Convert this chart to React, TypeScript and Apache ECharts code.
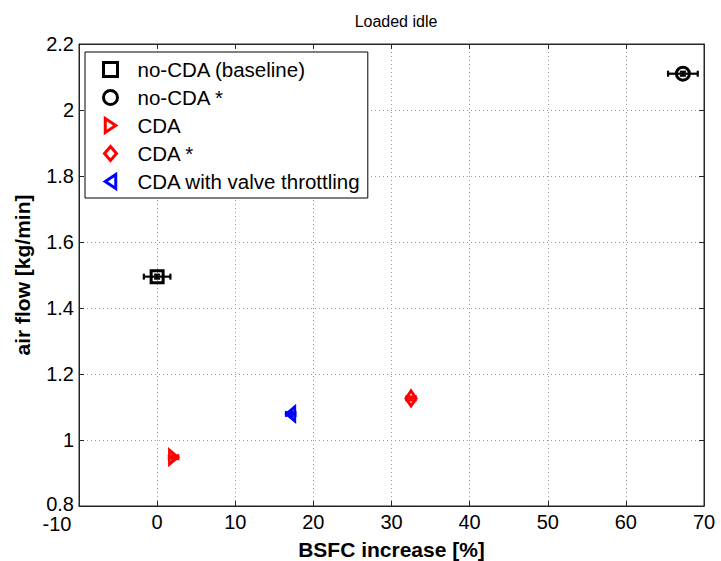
import React, { useEffect, useRef } from "react";
import * as echarts from "echarts";

const seriesNames = ["no-CDA (baseline)", "no-CDA *", "CDA", "CDA *", "CDA with valve throttling"];
const bsfcIncrease = [0, 67.3, 2.1, 32.5, 17.1];
const airFlow = [1.495, 2.11, 0.948, 1.126, 1.079];
const bsfcErr = [1.7, 1.9, 0.6, 0.6, 0.6];
const airFlowErr = [0.006, 0.006, 0.006, 0.006, 0.006];
const seriesColors = ["#000000", "#000000", "#ff0000", "#ff0000", "#0000ff"];
const seriesSymbols = [
  "path://M0,0H10V10H0Z",
  "path://M5,0A5,5 0 1,1 5,10A5,5 0 1,1 5,0Z",
  "path://M0,0L9,6L0,12Z",
  "path://M6,0L12,7L6,14L0,7Z",
  "path://M9,0L0,6L9,12Z",
];
const seriesSizes: number[][] = [[12, 12], [13, 13], [11, 14], [12, 15], [11, 14]];

const FONT = "'Liberation Sans', Arial, sans-serif";

export default function App() {
  const ref = useRef<HTMLDivElement>(null);
  useEffect(() => {
    if (!ref.current) return;
    const chart = echarts.init(ref.current, null, { renderer: "svg" });
    const scatterSeries = seriesNames.map((name, i) => ({
      type: "scatter",
      name,
      xAxisIndex: 0,
      yAxisIndex: 0,
      symbol: seriesSymbols[i],
      symbolSize: seriesSizes[i],
      symbolKeepAspect: true,
      itemStyle: { color: "transparent", borderColor: seriesColors[i], borderWidth: 3, opacity: 1 },
      data: [[bsfcIncrease[i], airFlow[i]]],
      z: 3,
    }));
    const errData = bsfcIncrease.map((x, i) => [x, airFlow[i], bsfcErr[i], airFlowErr[i]]);
    const axisLineStyle = { color: "#262626", width: 1 };
    chart.setOption({
      animation: false,
      backgroundColor: "#ffffff",
      textStyle: { fontFamily: FONT },
      title: {
        text: "Loaded idle",
        left: 391,
        top: 8,
        textAlign: "center",
        textStyle: { fontFamily: FONT, fontSize: 16, fontWeight: "normal", color: "#000" },
      },
      grid: {
        left: 79,
        right: 17,
        top: 44,
        bottom: 55,
        containLabel: false,
        outerBoundsMode: "none",
        show: true,
        borderColor: "#262626",
        borderWidth: 1,
        backgroundColor: "#fff",
      },
      legend: {
        data: seriesNames,
        orient: "vertical",
        left: 85,
        top: 52,
        itemWidth: 44,
        itemHeight: 14,
        itemGap: 7,
        padding: [7, 7, 6, 17],
        symbolKeepAspect: true,
        itemStyle: { borderWidth: 3 },
        backgroundColor: "#fff",
        borderColor: "#000",
        borderWidth: 1,
        borderRadius: 0,
        textStyle: { fontFamily: FONT, fontSize: 20.5, color: "#000", lineHeight: 20 },
        selectedMode: false,
      },
      xAxis: [
        {
          type: "value",
          min: -10,
          max: 70,
          interval: 10,
          name: "BSFC increase [%]",
          nameLocation: "middle",
          nameGap: 28,
          nameTextStyle: { fontFamily: FONT, fontSize: 21, fontWeight: "bold", color: "#000" },
          axisLine: { show: true, onZero: false, lineStyle: axisLineStyle },
          axisTick: { show: true, inside: true, length: 5, lineStyle: axisLineStyle },
          axisLabel: {
            fontFamily: FONT,
            fontSize: 20,
            color: "#000",
            margin: 6,
            formatter: (v: number) => (v === -10 ? "{m|-10}" : String(v)),
            rich: { m: { fontFamily: FONT, fontSize: 20, color: "#000", padding: [2, 44, 0, 0] } },
          },
          splitLine: { show: true, lineStyle: { color: "#9a9a9a", type: [1, 3], width: 1 } },
        },
        {
          type: "value",
          position: "top",
          min: -10,
          max: 70,
          interval: 10,
          axisLine: { show: true, onZero: false, lineStyle: axisLineStyle },
          axisTick: { show: true, inside: true, length: 5, lineStyle: axisLineStyle },
          axisLabel: { show: false },
          splitLine: { show: false },
        },
      ],
      yAxis: [
        {
          type: "value",
          min: 0.8,
          max: 2.2,
          interval: 0.2,
          name: "air flow [kg/min]",
          nameLocation: "middle",
          nameGap: 46,
          nameTextStyle: { fontFamily: FONT, fontSize: 21, fontWeight: "bold", color: "#000" },
          axisLine: { show: true, onZero: false, lineStyle: axisLineStyle },
          axisTick: { show: true, inside: true, length: 5, lineStyle: axisLineStyle },
          axisLabel: {
            fontFamily: FONT,
            fontSize: 20,
            color: "#000",
            margin: 5,
            formatter: (v: number) => (Math.abs(v - 0.8) < 1e-9 ? "{b|0.8}" : String(Math.round(v * 10) / 10)),
            rich: { b: { fontFamily: FONT, fontSize: 20, color: "#000", padding: [0, 0, 5, 0] } },
          },
          splitLine: { show: true, lineStyle: { color: "#9a9a9a", type: [1, 3], width: 1 } },
        },
        {
          type: "value",
          position: "right",
          min: 0.8,
          max: 2.2,
          interval: 0.2,
          axisLine: { show: true, onZero: false, lineStyle: axisLineStyle },
          axisTick: { show: true, inside: true, length: 5, lineStyle: axisLineStyle },
          axisLabel: { show: false },
          splitLine: { show: false },
        },
      ],
      series: [
        {
          type: "custom",
          name: "error bars",
          xAxisIndex: 0,
          yAxisIndex: 0,
          z: 2,
          data: errData,
          renderItem: (params: any, api: any) => {
            const x = api.value(0);
            const y = api.value(1);
            const xe = api.value(2);
            const ye = api.value(3);
            const l = api.coord([x - xe, y]);
            const r = api.coord([x + xe, y]);
            const t = api.coord([x, y + ye]);
            const b = api.coord([x, y - ye]);
            const cap = 3;
            const style = { stroke: seriesColors[params.dataIndex], lineWidth: 2.2, fill: "none" };
            return {
              type: "group",
              children: [
                { type: "line", shape: { x1: l[0], y1: l[1], x2: r[0], y2: r[1] }, style },
                { type: "line", shape: { x1: l[0], y1: l[1] - cap, x2: l[0], y2: l[1] + cap }, style },
                { type: "line", shape: { x1: r[0], y1: r[1] - cap, x2: r[0], y2: r[1] + cap }, style },
                { type: "line", shape: { x1: t[0], y1: t[1], x2: b[0], y2: b[1] }, style },
                { type: "line", shape: { x1: t[0] - cap, y1: t[1], x2: t[0] + cap, y2: t[1] }, style },
                { type: "line", shape: { x1: b[0] - cap, y1: b[1], x2: b[0] + cap, y2: b[1] }, style },
              ],
            };
          },
        },
        ...scatterSeries,
      ],
    });
    return () => chart.dispose();
  }, []);
  return (
    <div
      ref={ref}
      style={{ position: "absolute", left: 0, top: 0, width: 721, height: 561, background: "#fff" }}
    />
  );
}
